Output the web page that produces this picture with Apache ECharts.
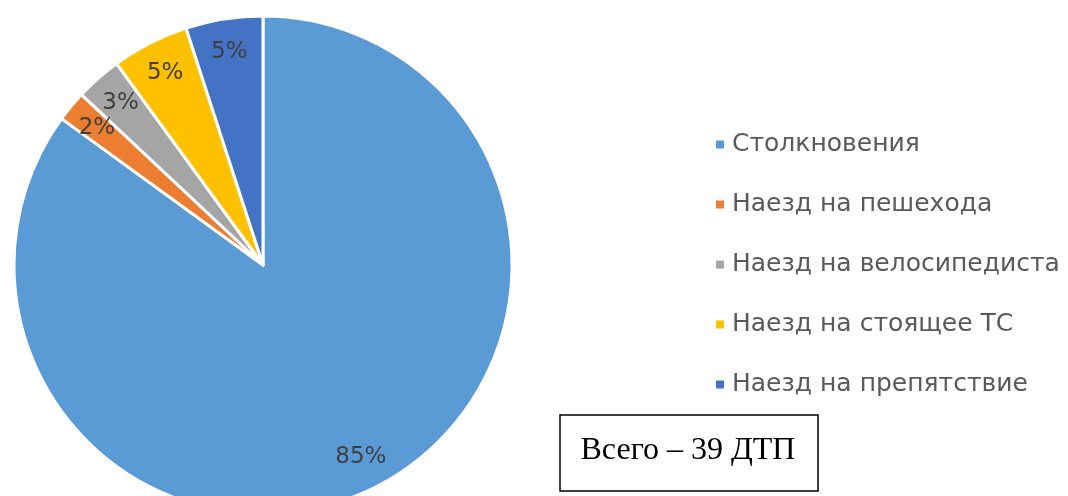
<html>
<head>
<meta charset="utf-8">
<script src="https://cdn.jsdelivr.net/npm/echarts@6/dist/echarts.min.js"></script>
<style>
  html, body { margin: 0; padding: 0; background: #fff; }
  #main { width: 1068px; height: 496px; }
</style>
</head>
<body>
<div id="main"></div>
<script>
var categories = ['Столкновения', 'Наезд на пешехода', 'Наезд на велосипедиста', 'Наезд на стоящее ТС', 'Наезд на препятствие'];
var shares = [85, 2, 3, 5, 5];
var colors = ['#5b9bd5', '#ed7d31', '#a5a5a5', '#ffc000', '#4472c4'];
var totalText = 'Всего – 39 ДТП';

var chart = echarts.init(document.getElementById('main'));

var pieData = categories.map(function (name, i) {
    return {name: name, value: shares[i]};
});

chart.setOption({
    animation: false,
    color: colors,
    legend: {
        orient: 'vertical',
        left: 709,
        top: 127,
        itemWidth: 10,
        itemHeight: 10,
        itemGap: 35,
        icon: 'rect',
        textStyle: {
            fontFamily: 'DejaVu Sans',
            fontSize: 25,
            lineHeight: 25,
            color: '#595959',
            padding: [0, 0, 0, 2]
        },
        data: categories
    },
    series: [
        {
            type: 'pie',
            center: [263, 265],
            radius: [0, 249],
            startAngle: 90,
            clockwise: true,
            silent: true,
            itemStyle: {borderColor: '#fff', borderWidth: 3},
            label: {show: false},
            labelLine: {show: false},
            data: pieData
        },
        {
            type: 'pie',
            center: [263, 265],
            radius: [176, 249],
            startAngle: 90,
            clockwise: true,
            silent: true,
            legendHoverLink: false,
            itemStyle: {color: 'transparent', borderWidth: 0},
            label: {
                show: true,
                position: 'inside',
                formatter: '{c}%',
                fontFamily: 'DejaVu Sans',
                fontSize: 23,
                color: '#404040'
            },
            labelLine: {show: false},
            data: pieData
        }
    ],
    graphic: [
        {
            type: 'rect',
            shape: {x: 560, y: 415, width: 258, height: 76},
            style: {fill: '#fff', stroke: '#000', lineWidth: 1.5}
        },
        {
            type: 'text',
            x: 688,
            y: 451,
            style: {
                text: totalText,
                fontFamily: 'Liberation Serif',
                fontSize: 32,
                fill: '#000',
                align: 'center',
                verticalAlign: 'middle'
            }
        }
    ]
});
</script>
</body>
</html>
